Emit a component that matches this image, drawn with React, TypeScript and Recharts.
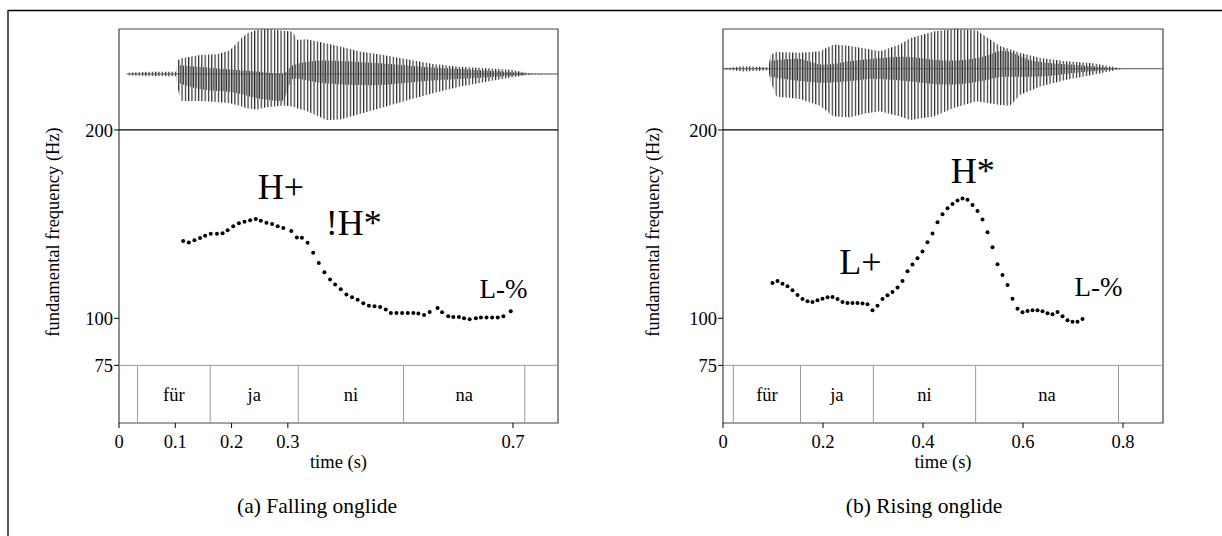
import React from 'react';
import {
  ComposedChart,
  Scatter,
  Area,
  XAxis,
  YAxis,
  ReferenceLine,
  ReferenceArea,
} from 'recharts';

const FONT = 'Tinos, "Liberation Serif", "Times New Roman", Times, "DejaVu Serif", serif';

// f0 contour (time s, Hz)
const fallingF0: [number, number][] = [
  [0.114, 141.0], [0.124, 140.2], [0.134, 141.5], [0.144, 142.6], [0.153, 143.8],
  [0.163, 144.9], [0.174, 144.9], [0.184, 145.2], [0.193, 146.8], [0.203, 148.9],
  [0.213, 150.5], [0.223, 151.2], [0.233, 152.1], [0.243, 152.7], [0.252, 151.8],
  [0.262, 150.7], [0.272, 150.0], [0.282, 148.9], [0.292, 148.0], [0.306, 146.3],
  [0.316, 142.9], [0.325, 142.7], [0.335, 140.1], [0.345, 134.8], [0.355, 129.4],
  [0.365, 124.5], [0.375, 120.6], [0.384, 117.9], [0.394, 115.4], [0.404, 112.6],
  [0.414, 111.2], [0.424, 109.9], [0.434, 108.0], [0.444, 106.7], [0.454, 106.4],
  [0.464, 106.0], [0.474, 104.6], [0.483, 102.8], [0.493, 102.8], [0.503, 102.8],
  [0.513, 102.8], [0.523, 102.8], [0.532, 102.5], [0.542, 101.8], [0.552, 103.4],
  [0.566, 105.5], [0.574, 103.2], [0.585, 101.1], [0.594, 100.7], [0.604, 100.7],
  [0.613, 100.0], [0.623, 99.5], [0.634, 100.0], [0.643, 100.4], [0.653, 100.4],
  [0.663, 100.4], [0.673, 100.4], [0.683, 101.1], [0.696, 103.7],
];

const risingF0: [number, number][] = [
  [0.099, 118.8], [0.109, 119.8], [0.119, 118.4], [0.129, 117.0], [0.139, 114.9],
  [0.149, 112.4], [0.159, 110.3], [0.169, 109.0], [0.179, 108.7], [0.189, 109.6],
  [0.199, 110.4], [0.209, 111.2], [0.219, 111.3], [0.229, 110.3], [0.239, 108.7],
  [0.249, 108.1], [0.259, 108.1], [0.269, 108.1], [0.279, 107.8], [0.289, 107.4],
  [0.299, 104.2], [0.309, 106.7], [0.319, 110.3], [0.329, 112.2], [0.339, 114.0],
  [0.349, 116.3], [0.359, 119.8], [0.369, 125.0], [0.379, 128.5], [0.389, 131.9],
  [0.399, 135.4], [0.409, 140.4], [0.419, 145.0], [0.429, 151.0], [0.439, 155.2],
  [0.449, 158.4], [0.459, 160.7], [0.469, 162.5], [0.479, 163.6], [0.489, 163.0],
  [0.499, 160.2], [0.509, 157.0], [0.519, 152.4], [0.529, 145.7], [0.539, 137.7],
  [0.549, 128.7], [0.559, 123.0], [0.569, 117.7], [0.579, 110.4], [0.589, 105.1],
  [0.599, 103.2], [0.609, 103.9], [0.619, 104.2], [0.629, 104.2], [0.639, 103.7],
  [0.649, 102.7], [0.659, 102.1], [0.669, 103.4], [0.679, 101.1], [0.689, 98.9],
  [0.699, 98.1], [0.709, 98.1], [0.719, 99.6],
];

// waveform envelope (time s, upper, lower), amplitude relative to the top of the box
const fallingWave: [number, number, number][] = [
  [0.014, 0.03, -0.03], [0.055, 0.05, -0.045], [0.101, 0.05, -0.05], [0.105, 0.31, -0.36],
  [0.111, 0.35, -0.6], [0.144, 0.42, -0.6], [0.174, 0.44, -0.62], [0.197, 0.53, -0.65],
  [0.215, 0.76, -0.71], [0.227, 0.9, -0.76], [0.245, 0.98, -0.79], [0.262, 1.0, -0.74],
  [0.292, 0.96, -0.7], [0.309, 0.94, -0.72], [0.316, 0.76, -0.76], [0.333, 0.77, -0.82],
  [0.369, 0.68, -1.02], [0.393, 0.61, -1.01], [0.428, 0.5, -0.89], [0.47, 0.42, -0.74],
  [0.511, 0.33, -0.59], [0.558, 0.22, -0.43], [0.606, 0.16, -0.28], [0.653, 0.13, -0.17],
  [0.7, 0.09, -0.07], [0.73, 0.01, -0.01], [0.778, 0, 0],
];

const risingWave: [number, number, number][] = [
  [0.0, 0.01, -0.01], [0.041, 0.06, -0.07], [0.091, 0.04, -0.04], [0.095, 0.35, -0.32],
  [0.107, 0.42, -0.7], [0.154, 0.4, -0.76], [0.194, 0.44, -0.93], [0.221, 0.61, -1.2],
  [0.254, 0.57, -1.22], [0.287, 0.5, -1.12], [0.314, 0.44, -1.07], [0.354, 0.61, -1.2],
  [0.374, 0.77, -1.29], [0.421, 0.94, -1.2], [0.461, 1.0, -0.99], [0.507, 0.97, -0.82],
  [0.554, 0.57, -0.91], [0.574, 0.49, -0.93], [0.594, 0.4, -0.66], [0.634, 0.27, -0.45],
  [0.687, 0.19, -0.28], [0.741, 0.14, -0.15], [0.787, 0.03, -0.03], [0.8, 0, 0], [0.88, 0, 0],
];

// darker inner band of the waveform (time s, upper, lower)
const fallingCore: [number, number, number][] = [
  [0.105, 0.2, -0.2], [0.15, 0.15, -0.35], [0.2, 0.1, -0.4], [0.25, 0.05, -0.55],
  [0.29, 0.0, -0.6], [0.31, 0.2, -0.1], [0.36, 0.3, -0.2], [0.45, 0.25, -0.25],
  [0.55, 0.15, -0.15], [0.65, 0.08, -0.08], [0.72, 0.02, -0.02],
];
const risingCore: [number, number, number][] = [
  [0.095, 0.2, -0.2], [0.15, 0.25, -0.3], [0.2, 0.1, -0.35], [0.26, 0.2, -0.3],
  [0.3, 0.25, -0.25], [0.36, 0.3, -0.3], [0.45, 0.2, -0.4], [0.52, 0.3, -0.3],
  [0.56, 0.45, -0.2], [0.62, 0.2, -0.2], [0.72, 0.08, -0.08], [0.78, 0.02, -0.02],
];

const syllables = ['für', 'ja', 'ni', 'na'];
const fallingBounds = [0.033, 0.162, 0.3185, 0.5056, 0.721];
const risingBounds = [0.0207, 0.155, 0.3007, 0.5053, 0.791];

// tone labels: text, time, Hz (baseline)
const fallingTones: [string, number, number][] = [
  ['H+', 0.2877, 163.4],
  ['!H*', 0.417, 144.2],
  ['L-%', 0.683, 110.8],
];
const risingTones: [string, number, number][] = [
  ['L+', 0.275, 123.5],
  ['H*', 0.4996, 171.9],
  ['L-%', 0.751, 111.8],
];

const fallingTicks = [0, 0.1, 0.2, 0.3, 0.7];
const risingTicks = [0, 0.2, 0.4, 0.6, 0.8];
const hzTicks = [75, 100, 200];

const HZ_DOMAIN: [number, number] = [44.4, 253.6];

const Dot = (p: any) => <circle cx={p.cx} cy={p.cy} r={2} fill="#000" />;

const ToneLabel = (p: any) => (
  <text
    x={p.cx}
    y={p.cy}
    textAnchor="middle"
    style={{ fontFamily: FONT, fontSize: p.payload.label === 'L-%' ? 27 : 36 }}
    fill="#000"
  >
    {p.payload.label}
  </text>
);

interface PanelProps {
  id: string;
  left: number;
  rightMargin: number;
  f0: [number, number][];
  wave: [number, number, number][];
  core: [number, number, number][];
  waveDomain: [number, number];
  bounds: number[];
  tones: [string, number, number][];
  xMax: number;
  xTicks: number[];
}

function Panel({ id, left, rightMargin, f0, wave, core, waveDomain, bounds, tones, xMax, xTicks }: PanelProps) {
  const pitch = f0.map(([t, hz]) => ({ t, hz }));
  const env = wave.map(([t, hi, lo]) => ({ t, band: [lo, hi] }));
  const inner = core.map(([t, hi, lo]) => ({ t, band: [lo, hi] }));
  const marks = tones.map(([label, t, hz]) => ({ label, t, hz }));
  const tiers = syllables.map((s, i) => ({ s, x1: bounds[i], x2: bounds[i + 1] }));
  const tickStyle = { fontSize: 18.5, fill: '#000', fontFamily: FONT };

  return (
    <div style={{ position: 'absolute', left, top: 0 }}>
      <ComposedChart
        width={600}
        height={480}
        margin={{ top: 29, right: rightMargin, bottom: 17, left: 0 }}
        style={{ fontFamily: FONT }}
      >
        <defs>
          <pattern id={`hatch-${id}`} width={3.3} height={10} patternUnits="userSpaceOnUse">
            <line x1={0.6} y1={0} x2={0.6} y2={10} stroke="#1a1a1a" strokeWidth={1.1} />
          </pattern>
          <pattern id={`core-${id}`} width={3.3} height={10} patternUnits="userSpaceOnUse">
            <line x1={2.1} y1={0} x2={2.1} y2={10} stroke="#333" strokeWidth={1} />
          </pattern>
        </defs>
        <XAxis
          type="number"
          dataKey="t"
          domain={[0, xMax]}
          ticks={xTicks}
          interval={0}
          allowDataOverflow
          axisLine={false}
          tickLine={{ stroke: '#000' }}
          tickSize={5}
          tickMargin={7}
          height={40}
          tick={tickStyle}
          tickFormatter={(v) => String(v)}
        />
        <YAxis
          yAxisId="hz"
          type="number"
          domain={HZ_DOMAIN}
          ticks={hzTicks}
          interval={0}
          allowDataOverflow
          axisLine={false}
          tickLine={{ stroke: '#000' }}
          tickSize={5}
          tickMargin={1}
          width={119}
          tick={tickStyle}
        />
        <YAxis yAxisId="wave" type="number" domain={waveDomain} allowDataOverflow hide />

        <Area
          yAxisId="wave"
          data={env}
          dataKey="band"
          type="linear"
          stroke="none"
          fill={`url(#hatch-${id})`}
          fillOpacity={1}
          dot={false}
          activeDot={false}
          isAnimationActive={false}
        />
        <Area
          yAxisId="wave"
          data={inner}
          dataKey="band"
          type="monotone"
          stroke="none"
          fill={`url(#core-${id})`}
          fillOpacity={1}
          dot={false}
          activeDot={false}
          isAnimationActive={false}
        />
        <ReferenceLine
          yAxisId="wave"
          segment={[{ x: wave[0][0], y: 0 }, { x: xMax, y: 0 }]}
          stroke="#555"
        />
        <ReferenceLine yAxisId="hz" y={200} stroke="#000" strokeWidth={1.2} />
        <ReferenceLine yAxisId="hz" y={75} stroke="#999" />
        {bounds.map((b) => (
          <ReferenceLine
            key={b}
            yAxisId="hz"
            segment={[{ x: b, y: 75 }, { x: b, y: HZ_DOMAIN[0] }]}
            stroke="#999"
          />
        ))}
        {tiers.map((s) => (
          <ReferenceArea
            key={s.s}
            yAxisId="hz"
            x1={s.x1}
            x2={s.x2}
            y1={HZ_DOMAIN[0]}
            y2={75}
            fill="none"
            stroke="none"
            label={{ value: s.s, position: 'center', fontSize: 18.5, fill: '#000', fontFamily: FONT }}
          />
        ))}
        <ReferenceArea
          yAxisId="hz"
          x1={0}
          x2={xMax}
          y1={HZ_DOMAIN[0]}
          y2={HZ_DOMAIN[1]}
          fill="none"
          stroke="#444"
          strokeWidth={1.2}
        />
        <Scatter yAxisId="hz" data={pitch} dataKey="hz" shape={Dot} isAnimationActive={false} />
        <Scatter yAxisId="hz" data={marks} dataKey="hz" shape={ToneLabel} isAnimationActive={false} />
      </ComposedChart>
    </div>
  );
}

export default function App() {
  const axisText = { fontFamily: FONT, fontSize: 18.5, fill: '#000' };
  const captionText = { fontFamily: FONT, fontSize: 21.5, fill: '#000' };
  return (
    <div
      style={{
        position: 'absolute',
        left: 0,
        top: 0,
        width: 1222,
        height: 536,
        background: '#fff',
        fontFamily: FONT,
      }}
    >
      <Panel
        id="a"
        left={0}
        rightMargin={42}
        f0={fallingF0}
        wave={fallingWave}
        core={fallingCore}
        waveDomain={[-7.756, 1]}
        bounds={fallingBounds}
        tones={fallingTones}
        xMax={0.78}
        xTicks={fallingTicks}
      />
      <Panel
        id="b"
        left={604}
        rightMargin={41}
        f0={risingF0}
        wave={risingWave}
        core={risingCore}
        waveDomain={[-8.917, 1]}
        bounds={risingBounds}
        tones={risingTones}
        xMax={0.88}
        xTicks={risingTicks}
      />
      <svg
        width={1222}
        height={536}
        style={{ position: 'absolute', left: 0, top: 0, pointerEvents: 'none' }}
      >
        <line x1={8} y1={10.5} x2={1222} y2={10.5} stroke="#000" strokeWidth={1.3} />
        <line x1={8} y1={10} x2={8} y2={536} stroke="#000" strokeWidth={1.3} />
        <text transform="translate(58.7,232) rotate(-90)" textAnchor="middle" style={axisText}>
          fundamental frequency (Hz)
        </text>
        <text transform="translate(659.3,232) rotate(-90)" textAnchor="middle" style={axisText}>
          fundamental frequency (Hz)
        </text>
        <text x={338.5} y={468} textAnchor="middle" style={axisText}>time (s)</text>
        <text x={943} y={468} textAnchor="middle" style={axisText}>time (s)</text>
        <text x={317} y={512.5} textAnchor="middle" style={captionText}>(a) Falling onglide</text>
        <text x={924} y={512.5} textAnchor="middle" style={captionText}>(b) Rising onglide</text>
      </svg>
    </div>
  );
}
